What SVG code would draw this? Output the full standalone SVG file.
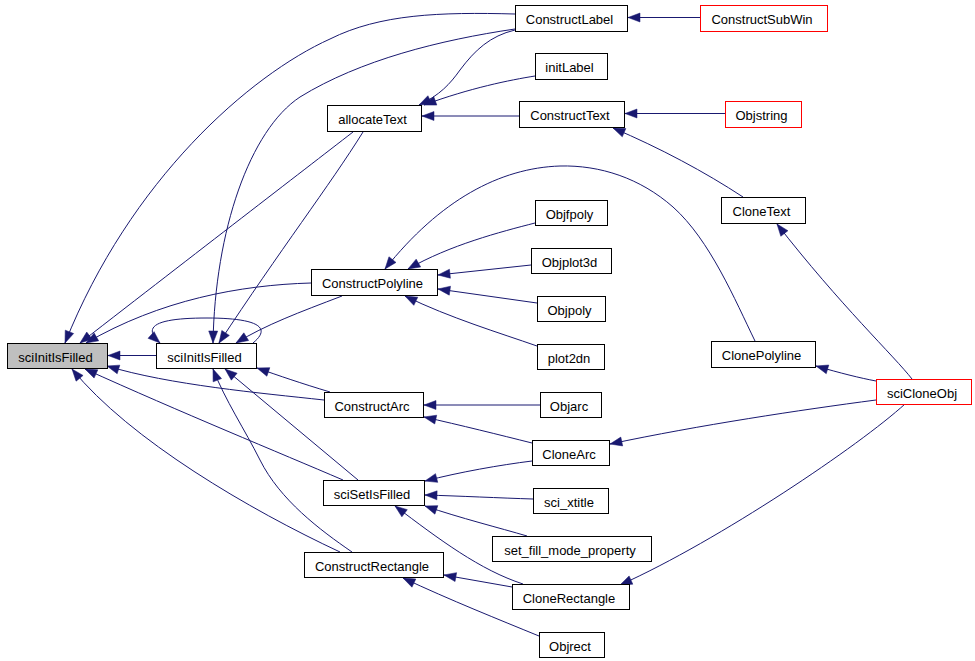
<svg xmlns="http://www.w3.org/2000/svg" width="975" height="661" viewBox="0 0 975 661">
<style>
.e{fill:none;stroke:#191970;stroke-width:1;marker-end:url(#arr)}
.n rect{fill:#ffffff;stroke:#000000;stroke-width:1}
.n.red rect{stroke:#ff0000}
.n.cur rect{fill:#bfbfbf}
.n text{font-family:"Liberation Sans",Arial,sans-serif;font-size:13px;fill:#000000;text-anchor:middle}
</style>
<defs>
<marker id="arr" markerWidth="12" markerHeight="9" refX="12" refY="4.5" orient="auto" markerUnits="userSpaceOnUse" overflow="visible">
<path d="M0,0 L12,4.5 L0,9 Z" fill="#191970" stroke="#191970" stroke-width="0.5"/>
</marker>
</defs>
<rect x="0" y="0" width="975" height="661" fill="#ffffff"/>
<g id="edges">
<path class="e" d="M515,14 C440,12 380,14 330,39 C250,75 130,180 65,343"/>
<path class="e" d="M515,29 C440,40 360,60 300,97 C250,130 215,230 213,343"/>
<path class="e" d="M515,30 C490,36 475,50 460,70 C450,84 440,95 419,105"/>
<path class="e" d="M535,76 C510,80 470,88 424,105"/>
<path class="e" d="M519,116 L422,116"/>
<path class="e" d="M725,113.5 L625,113.5"/>
<path class="e" d="M700,17.5 L628,17.5"/>
<path class="e" d="M743,197 C705,172 660,148 613,128"/>
<path class="e" d="M912,379 C895,357 840,305 777,224"/>
<path class="e" d="M353,132 C300,173 200,250 80,343"/>
<path class="e" d="M363,132 C330,185 280,250 219,343"/>
<path class="e" d="M311,283 C240,285 160,300 86,343"/>
<path class="e" d="M342,296 C300,312 265,325 236,343"/>
<path class="e" d="M253,343 C275,325 250,318 207,318 C160,318 140,325 160,343"/>
<path class="e" d="M156,355.5 L108,355.5"/>
<path class="e" d="M535,223 C500,232 450,245 408,269"/>
<path class="e" d="M531,265 L438,275"/>
<path class="e" d="M537,303 L438,289"/>
<path class="e" d="M537,346 C500,333 450,318 405,296"/>
<path class="e" d="M755,341 C735,300 710,240 673,207 C640,178 600,165 560,166 C500,168 440,200 385,269"/>
<path class="e" d="M876,381 C860,378 840,373 816,366"/>
<path class="e" d="M324,400 C260,393 170,385 107,366"/>
<path class="e" d="M330,392 C300,383 280,376 257,368"/>
<path class="e" d="M540,405 L424,405"/>
<path class="e" d="M532,443 C500,435 460,425 424,417"/>
<path class="e" d="M876,400 C800,410 700,425 610,444"/>
<path class="e" d="M343,480 C280,453 180,412 85,369"/>
<path class="e" d="M358,480 L225,369"/>
<path class="e" d="M340,552 C250,510 130,440 72,369"/>
<path class="e" d="M352,552 C320,530 280,500 260,460 C245,430 225,400 213,369"/>
<path class="e" d="M532,461 C500,465 460,472 425,481"/>
<path class="e" d="M533,499 C500,498 460,496 425,495"/>
<path class="e" d="M527,536 C500,528 460,518 425,506"/>
<path class="e" d="M523,584 C480,570 440,540 395,506"/>
<path class="e" d="M512,587 L444,575"/>
<path class="e" d="M539,636 C500,620 450,600 403,578"/>
<path class="e" d="M905,404 C860,445 720,540 620,585"/>
</g>
<g id="node-sciInitIsFilled-main" class="n cur"><rect x="7.5" y="343.5" width="100" height="25"/><text x="55.5" y="361.5">sciInitIsFilled</text></g>
<g id="node-sciInitIsFilled" class="n"><rect x="156.5" y="343.5" width="100" height="25"/><text x="204.5" y="361.5">sciInitIsFilled</text></g>
<g id="node-ConstructLabel" class="n"><rect x="515.5" y="5.5" width="112" height="26"/><text x="569.5" y="24">ConstructLabel</text></g>
<g id="node-ConstructSubWin" class="n red"><rect x="700.5" y="5.5" width="127" height="26"/><text x="762" y="24">ConstructSubWin</text></g>
<g id="node-initLabel" class="n"><rect x="535.5" y="53.5" width="72" height="26"/><text x="569.5" y="72">initLabel</text></g>
<g id="node-allocateText" class="n"><rect x="327.5" y="105.5" width="94" height="26"/><text x="372.5" y="124">allocateText</text></g>
<g id="node-ConstructText" class="n"><rect x="519.5" y="101.5" width="105" height="26"/><text x="570" y="120">ConstructText</text></g>
<g id="node-Objstring" class="n red"><rect x="725.5" y="101.5" width="76" height="26"/><text x="761.5" y="120">Objstring</text></g>
<g id="node-CloneText" class="n"><rect x="721.5" y="197.5" width="84" height="26"/><text x="761.5" y="216">CloneText</text></g>
<g id="node-Objfpoly" class="n"><rect x="535.5" y="200.5" width="72" height="25"/><text x="569.5" y="218.5">Objfpoly</text></g>
<g id="node-Objplot3d" class="n"><rect x="531.5" y="248.5" width="80" height="25"/><text x="569.5" y="266.5">Objplot3d</text></g>
<g id="node-ConstructPolyline" class="n"><rect x="311.5" y="269.5" width="126" height="26"/><text x="372.5" y="288">ConstructPolyline</text></g>
<g id="node-Objpoly" class="n"><rect x="537.5" y="296.5" width="68" height="25"/><text x="569.5" y="314.5">Objpoly</text></g>
<g id="node-plot2dn" class="n"><rect x="537.5" y="344.5" width="67" height="25"/><text x="569" y="362.5">plot2dn</text></g>
<g id="node-ClonePolyline" class="n"><rect x="711.5" y="341.5" width="104" height="26"/><text x="761.5" y="360">ClonePolyline</text></g>
<g id="node-sciCloneObj" class="n red"><rect x="876.5" y="379.5" width="95" height="25"/><text x="922" y="397.5">sciCloneObj</text></g>
<g id="node-ConstructArc" class="n"><rect x="324.5" y="392.5" width="99" height="25"/><text x="372" y="410.5">ConstructArc</text></g>
<g id="node-Objarc" class="n"><rect x="540.5" y="392.5" width="61" height="25"/><text x="569" y="410.5">Objarc</text></g>
<g id="node-CloneArc" class="n"><rect x="532.5" y="440.5" width="77" height="25"/><text x="569" y="458.5">CloneArc</text></g>
<g id="node-sciSetIsFilled" class="n"><rect x="323.5" y="480.5" width="101" height="25"/><text x="372" y="498.5">sciSetIsFilled</text></g>
<g id="node-sci_xtitle" class="n"><rect x="533.5" y="488.5" width="75" height="25"/><text x="569" y="506.5">sci_xtitle</text></g>
<g id="node-set_fill_mode_property" class="n"><rect x="492.5" y="536.5" width="159" height="25"/><text x="570" y="554.5">set_fill_mode_property</text></g>
<g id="node-ConstructRectangle" class="n"><rect x="304.5" y="552.5" width="139" height="25"/><text x="372" y="570.5">ConstructRectangle</text></g>
<g id="node-CloneRectangle" class="n"><rect x="512.5" y="584.5" width="117" height="25"/><text x="569" y="602.5">CloneRectangle</text></g>
<g id="node-Objrect" class="n"><rect x="539.5" y="632.5" width="65" height="25"/><text x="570" y="650.5">Objrect</text></g>
</svg>
